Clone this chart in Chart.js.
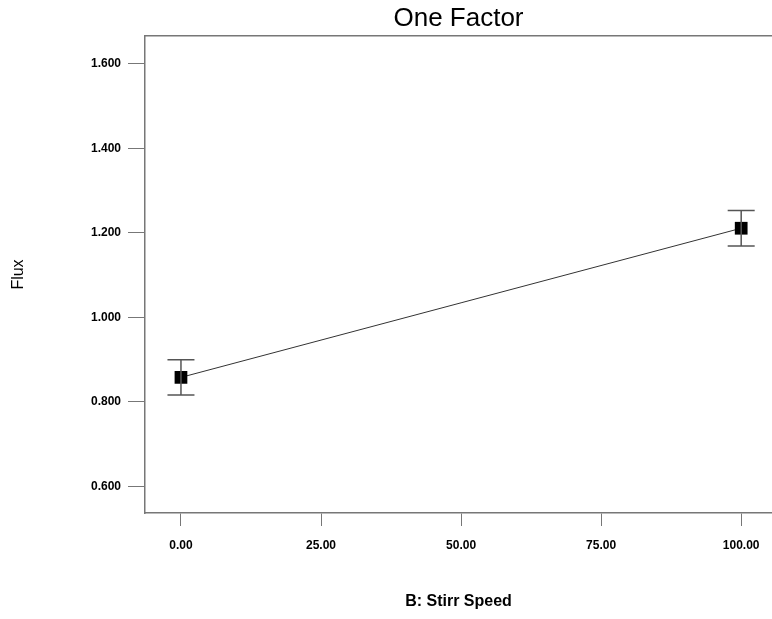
<!DOCTYPE html>
<html>
<head>
<meta charset="utf-8">
<script src="https://cdn.jsdelivr.net/npm/chart.js@4"></script>
<style>
    html, body { margin: 0; padding: 0; background: #fff; }
    #wrap { width: 772px; height: 619px; position: relative; }
</style>
</head>
<body>
<div id="wrap"><canvas id="myChart"></canvas></div>
<script>
// values
const speeds = [0, 100];
const flux = [0.858, 1.211];
const fluxLow = [0.816, 1.169];
const fluxHigh = [0.900, 1.253];

const xTicks = [0, 25, 50, 75, 100];
const yTicks = [0.6, 0.8, 1.0, 1.2, 1.4, 1.6];

const axisColor = "#777";

// draws the error bars (I-beams) from fluxLow / fluxHigh
const errorBars = {
    id: "errorBars",
    afterDatasetsDraw(chart) {
        const ctx = chart.ctx;
        const xs = chart.scales.x;
        const ys = chart.scales.y;
        ctx.save();
        ctx.strokeStyle = "#555";
        ctx.lineWidth = 1.5;
        speeds.forEach((s, i) => {
            const px = xs.getPixelForValue(s);
            const top = ys.getPixelForValue(fluxHigh[i]);
            const bot = ys.getPixelForValue(fluxLow[i]);
            ctx.beginPath();
            ctx.moveTo(px, top);
            ctx.lineTo(px, bot);
            ctx.moveTo(px - 13.5, top);
            ctx.lineTo(px + 13.5, top);
            ctx.moveTo(px - 13.5, bot);
            ctx.lineTo(px + 13.5, bot);
            ctx.stroke();
        });
        ctx.restore();
    }
};

const data = {
    datasets: [
        {
            data: speeds.map((s, i) => ({ x: s, y: flux[i] })),
            borderColor: "#333",
            borderWidth: 1,
            pointStyle: "rect",
            pointRadius: 9,
            pointBackgroundColor: "#000",
            pointBorderColor: "#000",
            pointBorderWidth: 0
        }
    ]
};

const config = {
    type: "line",
    data: data,
    plugins: [errorBars],
    options: {
        responsive: true,
        maintainAspectRatio: false,
        animation: false,
        layout: { padding: 0, autoPadding: false },
        plugins: {
            legend: { display: false },
            tooltip: { enabled: false }
        },
        scales: {
            x: {
                type: "linear",
                min: -6.42,
                max: 105.5,
                afterBuildTicks: scale => {
                    scale.ticks = xTicks.map(v => ({ value: v }));
                },
                afterFit: scale => {
                    scale.height = 106;
                    scale.paddingLeft = 0;
                    scale.paddingRight = 0;
                },
                ticks: {
                    color: "#000",
                    font: { family: "Liberation Sans, Arial", size: 12, weight: "bold" },
                    padding: 12,
                    maxRotation: 0,
                    callback: v => v.toFixed(2)
                },
                grid: {
                    drawOnChartArea: false,
                    tickLength: 13,
                    color: axisColor
                },
                border: { color: axisColor, width: 1.5 },
                title: {
                    display: true,
                    text: "B: Stirr Speed",
                    color: "#000",
                    font: { family: "Liberation Sans, Arial", size: 16, weight: "bold" },
                    padding: { top: 0, bottom: 8 }
                }
            },
            x2: {
                type: "linear",
                position: "top",
                min: -6.42,
                max: 105.5,
                afterFit: scale => {
                    scale.height = 36;
                    scale.paddingLeft = 0;
                    scale.paddingRight = 0;
                },
                ticks: { display: false },
                grid: { drawOnChartArea: false, drawTicks: false },
                border: { color: axisColor, width: 1.5 },
                title: {
                    display: true,
                    text: "One Factor",
                    color: "#000",
                    font: { family: "Liberation Sans, Arial", size: 26 },
                    padding: { top: 3, bottom: 0 }
                }
            },
            y: {
                min: 0.537,
                max: 1.666,
                afterBuildTicks: scale => {
                    scale.ticks = yTicks.map(v => ({ value: v }));
                },
                afterFit: scale => { scale.width = 145; },
                ticks: {
                    color: "#000",
                    font: { family: "Liberation Sans, Arial", size: 12, weight: "bold" },
                    padding: 7,
                    callback: v => v.toFixed(3)
                },
                grid: {
                    drawOnChartArea: false,
                    tickLength: 17,
                    color: axisColor
                },
                border: { color: axisColor, width: 1.5 },
                title: {
                    display: true,
                    text: "Flux",
                    color: "#000",
                    font: { family: "Liberation Sans, Arial", size: 16 },
                    padding: { top: 9, bottom: 0 }
                }
            }
        }
    }
};

const myChart = new Chart(document.getElementById("myChart"), config);
</script>
</body>
</html>
